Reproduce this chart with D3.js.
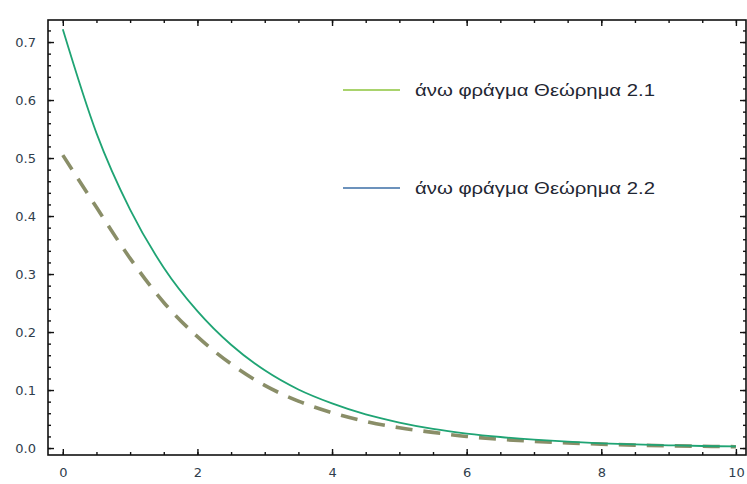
<!DOCTYPE html>
<html>
<head>
<meta charset="utf-8">
<script src="https://cdn.jsdelivr.net/npm/d3@7"></script>
<style>
  html, body { margin: 0; padding: 0; background: #fff; }
  .tick text { font-family: "DejaVu Sans", sans-serif; font-size: 13px; fill: #2f3d4c; }
  .tick line { stroke: #111; stroke-width: 1.4; }
  .legenda text { font-family: "Liberation Sans", Arial, sans-serif; font-size: 16px; fill: #1f2733; }
</style>
</head>
<body>
<div id="okvir"></div>
<script>
// podaci ocitani sa slike
const xVrijednosti = [0, 0.5, 1, 1.5, 2, 2.5, 3, 3.5, 4, 4.5, 5, 5.5, 6, 6.5, 7, 7.5, 8, 8.5, 9, 9.5, 10]
const granica21 = [0.722, 0.543, 0.411, 0.311, 0.236, 0.178, 0.134, 0.101, 0.077, 0.058, 0.044,
  0.033, 0.025, 0.019, 0.0145, 0.011, 0.0082, 0.0062, 0.0047, 0.0035, 0.0027]
const granica22 = [0.505, 0.415, 0.327, 0.251, 0.192, 0.145, 0.108, 0.081, 0.061, 0.046, 0.035,
  0.027, 0.020, 0.015, 0.0115, 0.0088, 0.0067, 0.0051, 0.0039, 0.003, 0.0023]
const xGlavneOznake = [0, 2, 4, 6, 8, 10]
const yGlavneOznake = [0, 0.1, 0.2, 0.3, 0.4, 0.5, 0.6, 0.7]
const yTekstOznaka = ["0.0", "0.1", "0.2", "0.3", "0.4", "0.5", "0.6", "0.7"]
const legendaNazivi = ["άνω φράγμα Θεώρημα 2.1", "άνω φράγμα Θεώρημα 2.2"]
const legendaBoje = ["#8cc43c", "#3b6ea6"]

function crtaj() {
  const dimenzije = {
    sirina: 747,
    visina: 484,
    lijevo: 48,
    desno: 746,
    gore: 20,
    dolje: 455,
  }

  const okvir = d3.select("#okvir")
    .append("svg")
      .attr("width", dimenzije.sirina)
      .attr("height", dimenzije.visina)

  // razmjeri
  const xSkala = d3.scaleLinear()
    .domain([-0.22, 10.15])
    .range([dimenzije.lijevo, dimenzije.desno])

  const ySkala = d3.scaleLinear()
    .domain([-0.012, 0.738])
    .range([dimenzije.dolje, dimenzije.gore])

  const tocke = (niz) => xVrijednosti.map((x, i) => [x, niz[i]])

  const linija = d3.line()
    .x(d => xSkala(d[0]))
    .y(d => ySkala(d[1]))
    .curve(d3.curveMonotoneX)

  // krivulje
  okvir.append("path")
      .attr("d", linija(tocke(granica22)))
      .attr("fill", "none")
      .attr("stroke", "#8a8e68")
      .attr("stroke-width", 3.6)
      .attr("stroke-dasharray", "17,11")

  okvir.append("path")
      .attr("d", linija(tocke(granica21)))
      .attr("fill", "none")
      .attr("stroke", "#1fa474")
      .attr("stroke-width", 1.8)

  // osi
  const xMale = d3.range(0, 10.01, 0.5)
  const yMale = d3.range(0, 0.73, 0.02)

  const dolje = okvir.append("g")
      .attr("transform", `translate(0, ${dimenzije.dolje})`)
  dolje.append("g")
      .call(d3.axisBottom(xSkala).tickValues(xMale).tickSize(-3).tickFormat(""))
  dolje.append("g")
      .call(d3.axisBottom(xSkala).tickValues(xGlavneOznake).tickSize(-6).tickPadding(13).tickFormat(d3.format("d")))

  const gore = okvir.append("g")
      .attr("transform", `translate(0, ${dimenzije.gore})`)
  gore.append("g")
      .call(d3.axisTop(xSkala).tickValues(xMale).tickSize(-3).tickFormat(""))
  gore.append("g")
      .call(d3.axisTop(xSkala).tickValues(xGlavneOznake).tickSize(-6).tickFormat(""))

  const lijevo = okvir.append("g")
      .attr("transform", `translate(${dimenzije.lijevo}, 0)`)
  lijevo.append("g")
      .call(d3.axisLeft(ySkala).tickValues(yMale).tickSize(-3).tickFormat(""))
  lijevo.append("g")
      .call(d3.axisLeft(ySkala).tickValues(yGlavneOznake).tickSize(-6).tickPadding(12)
        .tickFormat((d, i) => yTekstOznaka[i]))

  const desno = okvir.append("g")
      .attr("transform", `translate(${dimenzije.desno}, 0)`)
  desno.append("g")
      .call(d3.axisRight(ySkala).tickValues(yMale).tickSize(-3).tickFormat(""))
  desno.append("g")
      .call(d3.axisRight(ySkala).tickValues(yGlavneOznake).tickSize(-6).tickFormat(""))

  okvir.selectAll(".domain").remove()

  // okvir grafa
  okvir.append("rect")
      .attr("x", dimenzije.lijevo)
      .attr("y", dimenzije.gore)
      .attr("width", dimenzije.desno - dimenzije.lijevo)
      .attr("height", dimenzije.dolje - dimenzije.gore)
      .attr("fill", "none")
      .attr("stroke", "#111")
      .attr("stroke-width", 1.6)

  // legenda
  const legenda = okvir.append("g")
      .attr("class", "legenda")
    .selectAll("g")
    .data(legendaNazivi)
    .join("g")
      .attr("transform", (d, i) => `translate(343, ${90 + i * 98})`)

  legenda.append("line")
      .attr("x1", 0)
      .attr("x2", 57)
      .attr("stroke", (d, i) => legendaBoje[i])
      .attr("stroke-width", 1.6)

  legenda.append("text")
      .attr("x", 72)
      .attr("y", 6)
      .attr("textLength", 240)
      .attr("lengthAdjust", "spacingAndGlyphs")
      .text(d => d)
}
crtaj()
</script>
</body>
</html>
